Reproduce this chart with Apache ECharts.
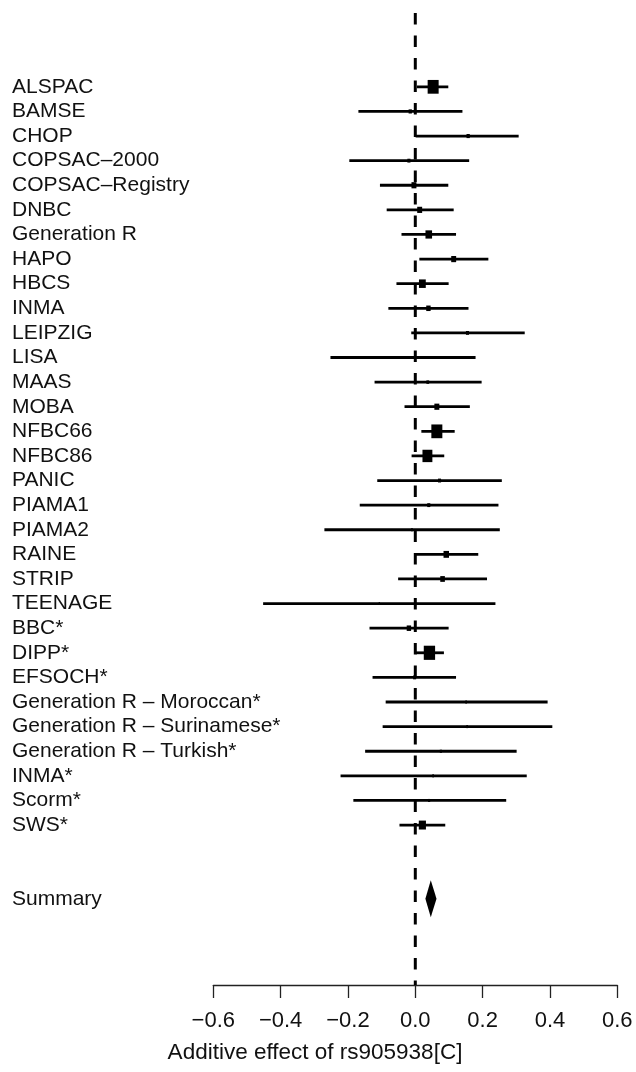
<!DOCTYPE html>
<html>
<head>
<meta charset="utf-8">
<script src="https://cdn.jsdelivr.net/npm/echarts@6/dist/echarts.min.js"></script>
<style>html,body{margin:0;padding:0;background:#fff}#c{width:636px;height:1072px}</style>
</head>
<body>
<div id="c"></div>
<script>
const studies = ["ALSPAC","BAMSE","CHOP","COPSAC–2000","COPSAC–Registry","DNBC","Generation R","HAPO","HBCS","INMA","LEIPZIG","LISA","MAAS","MOBA","NFBC66","NFBC86","PANIC","PIAMA1","PIAMA2","RAINE","STRIP","TEENAGE","BBC*","DIPP*","EFSOCH*","Generation R – Moroccan*","Generation R – Surinamese*","Generation R – Turkish*","INMA*","Scorm*","SWS*"];
const estimate = [0.053,-0.015,0.157,-0.019,-0.004,0.013,0.040,0.114,0.021,0.039,0.155,-0.037,0.037,0.064,0.064,0.036,0.072,0.040,-0.010,0.092,0.081,-0.107,-0.019,0.042,-0.002,0.151,0.154,0.076,0.053,0.041,0.021];
const lower = [0.005,-0.169,0.001,-0.196,-0.105,-0.085,-0.041,0.012,-0.056,-0.080,-0.012,-0.252,-0.121,-0.032,0.018,-0.011,-0.113,-0.165,-0.270,-0.001,-0.051,-0.452,-0.136,0.001,-0.127,-0.088,-0.097,-0.149,-0.222,-0.184,-0.047];
const upper = [0.098,0.140,0.307,0.160,0.098,0.114,0.121,0.217,0.099,0.158,0.325,0.179,0.197,0.162,0.117,0.086,0.257,0.247,0.251,0.187,0.213,0.238,0.099,0.085,0.121,0.393,0.407,0.301,0.331,0.270,0.089];
const weight = [1.0,0.3,0.3,0.28,0.45,0.45,0.6,0.45,0.62,0.4,0.28,0.22,0.25,0.45,1.0,0.9,0.28,0.28,0.18,0.5,0.42,0.1,0.4,1.03,0.28,0.16,0.16,0.2,0.16,0.2,0.65];
const summaryLabel = "Summary";
const summary = [0.046, 0.030, 0.063]; // estimate, lower, upper
const xTicks = [-0.6,-0.4,-0.2,0.0,0.2,0.4,0.6];
const xTitle = "Additive effect of rs905938[C]";

const summaryRow = studies.length + 2;
const FONT = "Liberation Sans";

const studyData = studies.map((s, i) => [estimate[i], i, lower[i], upper[i], weight[i]]);

const chart = echarts.init(document.getElementById('c'), null, {renderer: 'canvas'});
chart.setOption({
  animation: false,
  backgroundColor: '#fff',
  grid: {left: 213.3, right: 18.7, top: 13, bottom: 87, containLabel: false},
  xAxis: {
    type: 'value', min: xTicks[0], max: xTicks[xTicks.length - 1], interval: 0.2,
    position: 'bottom',
    axisLine: {show: true, onZero: false, lineStyle: {color: '#222', width: 1.3}},
    axisTick: {show: true, length: 13, lineStyle: {color: '#222', width: 1.3}},
    splitLine: {show: false},
    axisLabel: {
      margin: 25, color: '#111', fontFamily: FONT, fontSize: 22,
      formatter: v => {
        const r = Math.round(v * 10) / 10;
        const s = Math.abs(r).toFixed(1);
        return r < 0 ? '\u2212' + s : s;
      }
    }
  },
  yAxis: {
    type: 'value', inverse: true, min: -3, max: 36.5, interval: 1,
    axisLine: {show: false}, axisTick: {show: false}, splitLine: {show: false},
    axisLabel: {
      show: true, align: 'left', margin: 201.3, color: '#111', fontFamily: FONT, fontSize: 21,
      showMinLabel: true, showMaxLabel: false,
      formatter: v => {
        if (Math.abs(v - Math.round(v)) > 1e-6) return '';
        const k = Math.round(v);
        if (k >= 0 && k < studies.length) return studies[k];
        if (k === summaryRow) return summaryLabel;
        return '';
      }
    }
  },
  graphic: [{
    type: 'text', x: 315, y: 1053,
    style: {text: xTitle, fontFamily: FONT, fontSize: 22.5, fill: '#111', align: 'center', verticalAlign: 'middle'}
  }],
  series: [
    {
      type: 'custom',
      data: studyData,
      encode: {x: [0, 2, 3], y: 1},
      renderItem: (params, api) => {
        const row = api.value(1);
        const c = api.coord([api.value(0), row]);
        const a = api.coord([api.value(2), row]);
        const b = api.coord([api.value(3), row]);
        const w = api.value(4) * 11;
        const h = Math.max(w * 1.25, 3);
        return {
          type: 'group',
          children: [
            {type: 'line', shape: {x1: a[0], y1: a[1], x2: b[0], y2: b[1]}, style: {stroke: '#000', lineWidth: 2.8}},
            {type: 'rect', shape: {x: c[0] - w / 2, y: c[1] - h / 2, width: w, height: h}, style: {fill: '#000'}}
          ]
        };
      },
      z: 2
    },
    {
      type: 'custom',
      data: [[summary[0], summaryRow, summary[1], summary[2]]],
      encode: {x: [0, 2, 3], y: 1},
      renderItem: (params, api) => {
        const row = api.value(1);
        const c = api.coord([api.value(0), row]);
        const a = api.coord([api.value(2), row]);
        const b = api.coord([api.value(3), row]);
        const hh = 18.5;
        return {
          type: 'polygon',
          shape: {points: [[a[0], c[1]], [c[0], c[1] - hh], [b[0], c[1]], [c[0], c[1] + hh]]},
          style: {fill: '#000'}
        };
      },
      z: 2
    },
    {
      type: 'line',
      data: [[0, -3], [0, 36.5]],
      symbol: 'none',
      lineStyle: {color: '#000', width: 3, type: [11.5, 11]},
      z: 3
    }
  ]
});
</script>
</body>
</html>
